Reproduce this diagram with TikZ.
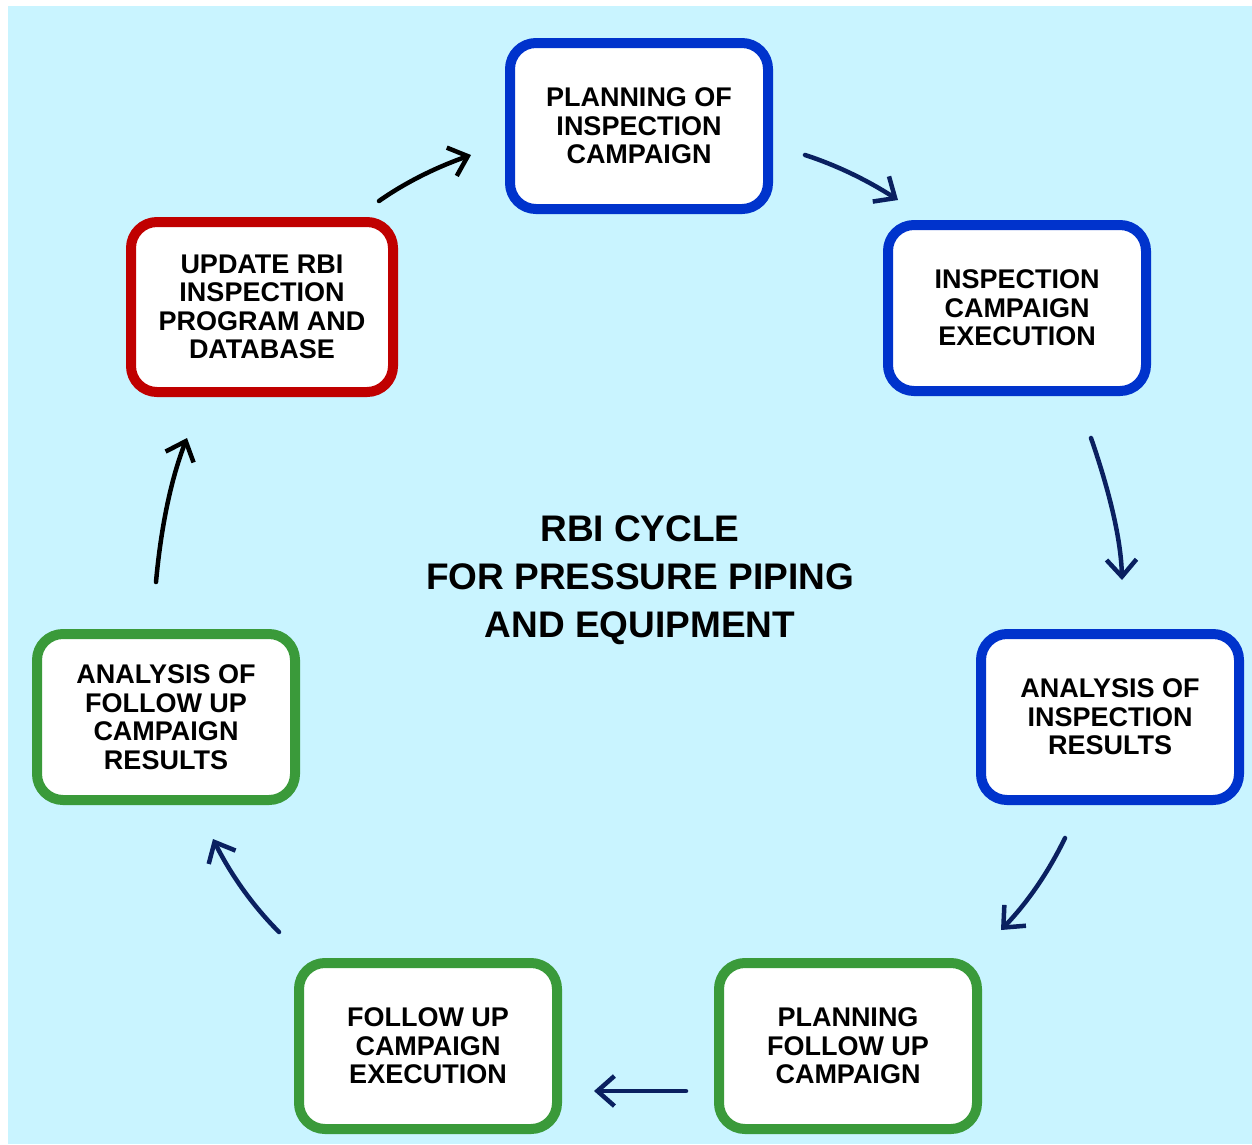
\documentclass[tikz,border=0pt]{standalone}
\usepackage{fontspec}
\setmainfont{Liberation Sans}
\usetikzlibrary{arrows.meta}
\definecolor{bgc}{RGB}{201,244,255}
\definecolor{bblue}{RGB}{0,51,204}
\definecolor{bred}{RGB}{192,0,0}
\definecolor{bgreen}{RGB}{58,154,58}
\definecolor{navy}{RGB}{10,32,96}
\begin{document}
\begin{tikzpicture}[x=1pt,y=-1pt,
  box/.style={draw=#1, line width=10pt, fill=white, rounded corners=26pt,
    minimum width=258pt, minimum height=166pt, inner sep=0pt, align=center,
    font=\fontsize{27}{28.5}\selectfont\bfseries},
  arr/.style={draw=#1, line width=4.5pt, line cap=round,
    -{Straight Barb[length=17pt,width=30pt]}},
]
\useasboundingbox (0,0) rectangle (1252,1144);
\fill[white] (0,0) rectangle (1252,1144);
\fill[bgc] (8,6) rectangle (1252,1144);

\node[box=bblue] (plan) at (639,126) {PLANNING OF\\INSPECTION\\CAMPAIGN};
\node[box=bblue] (insp) at (1017,308) {INSPECTION\\CAMPAIGN\\EXECUTION};
\node[box=bblue] (anal) at (1110,717) {ANALYSIS OF\\INSPECTION\\RESULTS};
\node[box=bgreen] (pfu) at (848,1046) {PLANNING\\FOLLOW UP\\CAMPAIGN};
\node[box=bgreen] (fue) at (428,1046) {FOLLOW UP\\CAMPAIGN\\EXECUTION};
\node[box=bgreen] (afu) at (166,717) {ANALYSIS OF\\FOLLOW UP\\CAMPAIGN\\RESULTS};
\node[box=bred, minimum width=262pt, minimum height=170pt] (upd) at (262,307) {UPDATE RBI\\INSPECTION\\PROGRAM AND\\DATABASE};

\node[font=\fontsize{37}{48}\selectfont\bfseries, align=center, text=black] (title) at (640,580) {RBI CYCLE\\FOR PRESSURE PIPING\\AND EQUIPMENT};

\coordinate (a1s) at (379,201); \coordinate (a1e) at (471,155);
\coordinate (a2s) at (805,155); \coordinate (a2e) at (898,200);
\coordinate (a3s) at (1091,438); \coordinate (a3e) at (1122,580);
\coordinate (a4s) at (1065,838); \coordinate (a4e) at (1001,930);
\coordinate (a5s) at (686,1091); \coordinate (a5e) at (594,1091);
\coordinate (a6s) at (279,932); \coordinate (a6e) at (213,839);
\coordinate (a7s) at (156,582); \coordinate (a7e) at (187,438);

\draw[arr=black] (a1s) .. controls (406,182) and (437,167) .. (a1e);
\draw[arr=navy] (a2s) .. controls (836,165) and (867,180) .. (a2e);
\draw[arr=navy] (a3s) .. controls (1110,493) and (1121,540) .. (a3e);
\draw[arr=navy] (a4s) .. controls (1048,873) and (1027,903) .. (a4e);
\draw[arr=navy] (a5s) -- (a5e);
\draw[arr=navy] (a6s) .. controls (253,906) and (231,875) .. (a6e);
\draw[arr=black] (a7s) .. controls (161,527) and (171,479) .. (a7e);
\end{tikzpicture}
\end{document}
